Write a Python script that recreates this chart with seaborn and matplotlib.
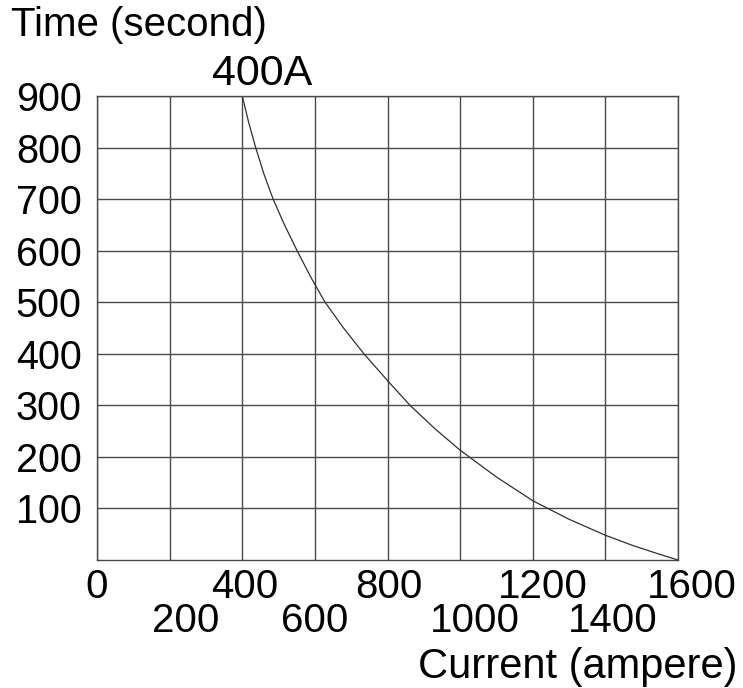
import numpy as np
import pandas as pd
import seaborn as sns
import matplotlib.pyplot as plt
import matplotlib.transforms as mtransforms

# values
current = [400, 418, 437, 460, 485, 515, 551, 590, 628, 680, 735, 770, 800,
           862, 930, 1000, 1100, 1200, 1300, 1400, 1476, 1541, 1600]
time_s = [900, 848, 800, 748, 700, 652, 600, 547, 500, 449, 400, 372, 348,
          300, 255, 213, 161, 115, 79, 48, 28, 13, 0]

x_major = [0, 400, 800, 1200, 1600]
x_minor = [200, 600, 1000, 1400]
y_ticks = [100, 200, 300, 400, 500, 600, 700, 800, 900]

# small horizontal nudges (pixels) of x tick labels, as in the reference
label_shift = {0: 0, 200: 16, 400: 3, 600: 0, 800: 1,
               1000: 15, 1200: 10, 1400: 7, 1600: 14}

df = pd.DataFrame({"current": current, "time": time_s})

sns.set_style("whitegrid", {"grid.color": "#4a4a4a", "axes.edgecolor": "#4a4a4a"})
plt.rcParams['font.family'] = ['Liberation Sans', 'DejaVu Sans']
plt.rcParams['text.color'] = 'black'

W, H = 743, 688
fig = plt.figure(figsize=(W / 100, H / 100), dpi=100)
ax = fig.add_axes([97 / W, 1 - 560 / H, 581 / W, 464 / H])

sns.lineplot(data=df, x="current", y="time", ax=ax, color="#303030",
             linewidth=0.9, sort=False)

ax.set_xlim(0, 1600)
ax.set_ylim(0, 900)
ax.set_xticks(x_major)
ax.set_xticklabels([str(v) for v in x_major])
ax.set_xticks(x_minor, minor=True)
ax.set_xticklabels([str(v) for v in x_minor], minor=True)
ax.set_yticks(y_ticks)
ax.set_yticklabels([str(v) for v in y_ticks])
ax.set_xlabel("")
ax.set_ylabel("")

ax.grid(True, which="both", axis="x", color="#4a4a4a", linewidth=1.0)
ax.grid(True, which="major", axis="y", color="#4a4a4a", linewidth=1.0)
for s in ax.spines.values():
    s.set_linewidth(1.0)
    s.set_color("#4a4a4a")

ax.tick_params(axis="x", which="major", length=0, pad=6, labelsize=29, labelcolor="black")
ax.tick_params(axis="x", which="minor", length=0, pad=30.5, labelsize=29, labelcolor="black")
ax.tick_params(axis="y", which="major", length=0, pad=11, labelsize=28.5, labelcolor="black")

for ticks in (ax.xaxis.get_major_ticks(), ax.xaxis.get_minor_ticks()):
    for t in ticks:
        v = int(round(t.get_loc()))
        dx = label_shift.get(v, 0) / 100
        off = mtransforms.ScaledTranslation(dx, 0, fig.dpi_scale_trans)
        t.label1.set_transform(t.label1.get_transform() + off)

fig.text(11 / W, 1 - 36 / H, "Time (second)", fontsize=29, ha="left",
         va="baseline", color="black")
trans = mtransforms.blended_transform_factory(ax.transData, ax.transAxes)
ax.text(455, 1 + 11 / 464, "400A", transform=trans, fontsize=31,
        ha="center", va="baseline", color="black")
fig.text(737 / W, 1 - 678 / H, "Current (ampere)", fontsize=30, ha="right",
         va="baseline", color="black")

fig.savefig("out.png", dpi=100)
